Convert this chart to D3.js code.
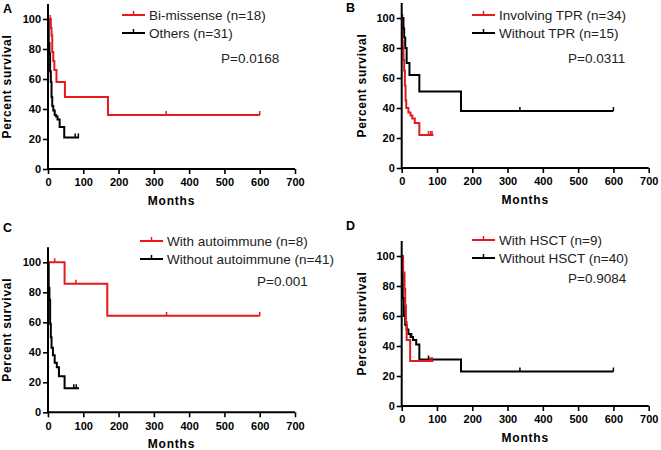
<!DOCTYPE html>
<html><head><meta charset="utf-8">
<script src="https://cdn.jsdelivr.net/npm/d3@7"></script>
<style>
body{margin:0;background:#fff;}
svg{display:block;}
text{font-family:"Liberation Sans",Arial,sans-serif;}
</style></head>
<body>
<svg id="c" width="661" height="450"></svg>
<script>
// ---- data ----
const monthTicks = [0,100,200,300,400,500,600,700];
const survTicks = [0,20,40,60,80,100];

const aLabels = ["Bi-missense (n=18)", "Others (n=31)"];
const aP = "P=0.0168";
const aRed = [[0,100],[8,94],[10,89],[12,78],[15,72],[18,66],[24,58],[48,48],[170,36],[600,36]];
const aRedCensor = [[6,100],[335,36],[600,36]];
const aBlack = [[0,100],[2,84],[4,77],[6,65],[8,58],[10,48],[12,42],[15,39],[19,36],[23,35],[27,33],[33,28],[46,21],[88,21]];
const aBlackCensor = [[77,21],[86,21]];

const bLabels = ["Involving TPR (n=34)", "Without TPR (n=15)"];
const bP = "P=0.0311";
const bRed = [[0,100],[1,85],[3,80],[5,72],[7,65],[9,55],[11,45],[13,40],[19,37],[25,35],[30,33],[37,30],[50,22],[90,22]];
const bRedCensor = [[76,22],[82,22],[86,22]];
const bBlack = [[0,100],[5,93],[7,87],[10,80],[14,70],[22,62],[50,51],[168,38],[600,38]];
const bBlackCensor = [[2,100],[335,38],[600,38]];

const cLabels = ["With autoimmune (n=8)", "Without autoimmune (n=41)"];
const cP = "P=0.001";
const cRed = [[0,100],[47,85.7],[168,64.3],[600,64.3]];
const cRedCensor = [[19,100],[79,85.7],[336,64.3],[600,64.3]];
const cBlack = [[0,100],[2,83],[4,75],[6,59],[8,50],[10,43],[14,38],[19,33],[25,30],[31,24],[47,16],[88,16]];
const cBlackCensor = [[73,16],[80,16]];

const dLabels = ["With HSCT (n=9)", "Without HSCT (n=40)"];
const dP = "P=0.9084";
const dRed = [[0,100],[4,89],[8,78],[10,67],[12,56],[14,44],[24,30],[90,30]];
const dRedCensor = [[80,30],[86,30]];
const dBlack = [[0,100],[1,88],[3,72],[6,60],[10,54],[14,51],[19,48],[25,46],[32,44],[41,41],[50,31],[168,23],[600,23]];
const dBlackCensor = [[28,46],[76,31],[335,23],[600,23]];

// ---- layout ----
const RED = "#e8191c", BLACK = "#000";
const panels = [
  {letter:"A", x0:48, y0:169, lx:122, ly:15, px:221, py:63, labels:aLabels, p:aP, red:aRed, redC:aRedCensor, black:aBlack, blackC:aBlackCensor, lwx:7, letterX:3, letterY:13},
  {letter:"B", x0:401.7, y0:168, lx:472, ly:15, px:568, py:63, labels:bLabels, p:bP, red:bRed, redC:bRedCensor, black:bBlack, blackC:bBlackCensor, lwx:362, letterX:346, letterY:12},
  {letter:"C", x0:48, y0:412.3, lx:140, ly:241, px:257, py:286, labels:cLabels, p:cP, red:cRed, redC:cRedCensor, black:cBlack, blackC:cBlackCensor, lwx:7, letterX:3, letterY:232},
  {letter:"D", x0:401.7, y0:406, lx:472, ly:240, px:568, py:283, labels:dLabels, p:dP, red:dRed, redC:dRedCensor, black:dBlack, blackC:dBlackCensor, lwx:362, letterX:346, letterY:230}
];

const svg = d3.select("#c");
const W = 247, H = 165; // 0..700, 0..110

panels.forEach(pn => {
  const x = d3.scaleLinear().domain([0,700]).range([pn.x0, pn.x0+W]);
  const y = d3.scaleLinear().domain([0,110]).range([pn.y0, pn.y0-H]);
  const g = svg.append("g");

  const line = d3.line().x(d=>x(d[0])).y(d=>y(d[1])).curve(d3.curveStepAfter);

  const series = [{d:pn.black, c:pn.blackC, col:BLACK},{d:pn.red, c:pn.redC, col:RED}];
  series.forEach(s => {
    g.append("path").attr("d", line(s.d)).attr("fill","none").attr("stroke",s.col).attr("stroke-width",2);
    g.selectAll(null).data(s.c).join("line")
      .attr("x1",d=>x(d[0])).attr("x2",d=>x(d[0]))
      .attr("y1",d=>y(d[1])).attr("y2",d=>y(d[1])-4)
      .attr("stroke",s.col).attr("stroke-width",1.5);
  });

  // axes
  const xa = g.append("g").attr("transform",`translate(0,${pn.y0})`)
    .call(d3.axisBottom(x).tickValues(monthTicks).tickSize(5).tickSizeOuter(0));
  const ya = g.append("g").attr("transform",`translate(${pn.x0},0)`)
    .call(d3.axisLeft(y).tickValues(survTicks).tickSize(5).tickSizeOuter(0));
  [xa,ya].forEach(a=>{
    a.select(".domain").attr("stroke","#000").attr("stroke-width",2);
    a.selectAll(".tick line").attr("stroke","#000").attr("stroke-width",1.6);
    a.selectAll(".tick text").attr("fill","#000").attr("font-size","11px").attr("font-weight","bold")
      .attr("font-family","'Liberation Sans',Arial,sans-serif");
  });
  xa.selectAll(".tick text").attr("dy","0.85em");
  ya.selectAll(".tick text").attr("dx","0.1em");
  xa.select(".domain").attr("d",`M${x(0)},0H${x(700)}`);
  ya.select(".domain").attr("d",`M0,${y(0)+1}V${y(110)}`);

  // axis titles
  g.append("text").attr("x", pn.x0 + W/2).attr("y", pn.y0 + 36)
    .attr("text-anchor","middle").attr("font-size","12px").attr("font-weight","bold")
    .attr("letter-spacing","0.8px").text("Months");
  g.append("text").attr("transform",`translate(${pn.lwx+4},${y(55)}) rotate(-90)`)
    .attr("text-anchor","middle").attr("font-size","12px").attr("font-weight","bold")
    .attr("letter-spacing","0.7px").text("Percent survival");

  // panel letter
  g.append("text").attr("x",pn.letterX).attr("y",pn.letterY).attr("font-size","12.5px")
    .attr("font-weight","bold").text(pn.letter);

  // legend
  const leg = [{col:RED, t:pn.labels[0]},{col:BLACK, t:pn.labels[1]}];
  leg.forEach((l,i)=>{
    const yy = pn.ly + i*18;
    g.append("line").attr("x1",pn.lx).attr("x2",pn.lx+23).attr("y1",yy).attr("y2",yy)
      .attr("stroke",l.col).attr("stroke-width",2);
    g.append("line").attr("x1",pn.lx+11.5).attr("x2",pn.lx+11.5).attr("y1",yy).attr("y2",yy-4)
      .attr("stroke",l.col).attr("stroke-width",1.5);
    g.append("text").attr("x",pn.lx+27).attr("y",yy+5).attr("font-size","13.5px").attr("fill","#222").text(l.t);
  });
  g.append("text").attr("x",pn.px).attr("y",pn.py).attr("font-size","13.5px").attr("fill","#222").text(pn.p);
});
</script>
</body></html>
